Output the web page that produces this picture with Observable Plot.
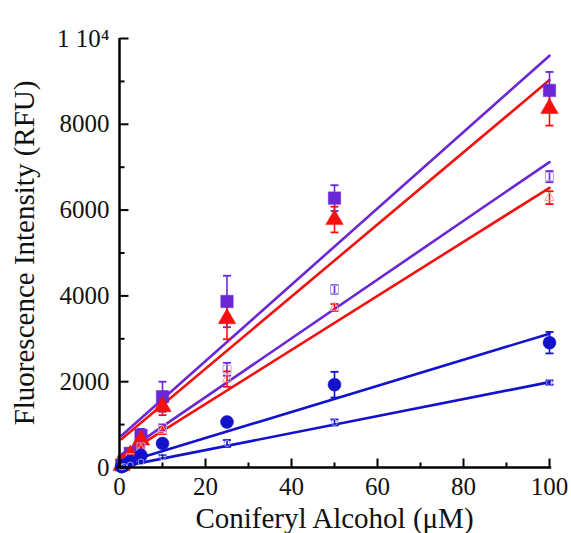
<!DOCTYPE html>
<html>
<head>
<meta charset="utf-8">
<script src="https://cdn.jsdelivr.net/npm/d3@7"></script>
<script src="https://cdn.jsdelivr.net/npm/@observablehq/plot@0.6"></script>
<style>
  html, body { margin: 0; padding: 0; background: #fff; }
  #chart svg { display: block; }
</style>
</head>
<body>
<div id="chart"></div>
<script>
// ---- data ----
const concentrations = [0.5, 1, 2.5, 5, 10, 25, 50, 100];
const seriesNames = ["sqFilled", "triFilled", "sqOpen", "triOpen", "circFilled", "circOpen"];
const sqFilled   = [60, 130, 330, 750, 1650, 3870, 6280, 8790];
const triFilled  = [50, 110, 290, 640, 1420, 3470, 5780, 8370];
const sqOpen     = [40, 90, 230, 480, 930, 2290, 4150, 6780];
const triOpen    = [35, 80, 200, 430, 860, 2060, 3730, 6290];
const circFilled = [20, 50, 140, 280, 560, 1060, 1930, 2910];
const circOpen   = [10, 25, 60, 130, 250, 560, 1050, 1980];
const sqFilledErr   = [20, 30, 60, 150, 350, 600, 300, 430];
const triFilledErr  = [20, 30, 60, 150, 200, 480, 300, 400];
const sqOpenErr     = [10, 15, 30, 50, 80, 150, 100, 130];
const triOpenErr    = [10, 15, 30, 50, 80, 180, 80, 150];
const circFilledErr = [10, 10, 20, 40, 60, 100, 300, 250];
const circOpenErr   = [5, 5, 10, 20, 40, 80, 70, 50];
// linear fits: slope, intercept
const fitSlopes     = [89.0, 84.1, 68.5, 63.0, 30.4, 19.8];
const fitIntercepts = [700, 620, 270, 220, 80, 10];
const fitRange = [0.5, 100];
const yTicks = [0, 2000, 4000, 6000, 8000, 10000];
const yMinorTicks = [1000, 3000, 5000, 7000, 9000];
const xTicks = [0, 20, 40, 60, 80, 100];
const xMinorTicks = [10, 30, 50, 70, 90];

// ---- styles ----
const PURPLE = "#6a27d6", RED = "#f50f0f", BLUE = "#1212cc";
const styles = {
  sqFilled:   {color: PURPLE, symbol: "square",   r: 7,   fill: PURPLE, stroke: PURPLE, light: null},
  triFilled:  {color: RED,    symbol: "triangle", r: 6.5, fill: RED,    stroke: RED,    light: null},
  sqOpen:     {color: PURPLE, symbol: "square",   r: 4.5, fill: "none", stroke: "#b9a3ee", light: true},
  triOpen:    {color: RED,    symbol: "triangle", r: 3.5, fill: "none", stroke: "#f3a0a0", light: true},
  circFilled: {color: BLUE,   symbol: "circle",   r: 6.5, fill: BLUE,   stroke: BLUE,   light: null},
  circOpen:   {color: BLUE,   symbol: "circle",   r: 3,   fill: "none", stroke: "#9a9aee", light: true}
};
const values = {sqFilled, triFilled, sqOpen, triOpen, circFilled, circOpen};
const errors = {sqFilled: sqFilledErr, triFilled: triFilledErr, sqOpen: sqOpenErr,
                triOpen: triOpenErr, circFilled: circFilledErr, circOpen: circOpenErr};

const points = [];
seriesNames.forEach(s => concentrations.forEach((c, i) =>
  points.push({series: s, x: c, y: values[s][i], e: errors[s][i]})));
const fits = [];
seriesNames.forEach((s, k) => fitRange.forEach(x =>
  fits.push({series: s, x, y: fitIntercepts[k] + fitSlopes[k] * x})));

// custom symbols
const capSym = {draw(ctx) { ctx.moveTo(-4, 0); ctx.lineTo(4, 0); }};
const yTickMaj = {draw(ctx) { ctx.moveTo(0, 0); ctx.lineTo(9, 0); }};
const yTickMin = {draw(ctx) { ctx.moveTo(0, 0); ctx.lineTo(5, 0); }};
const xTickMaj = {draw(ctx) { ctx.moveTo(0, 0); ctx.lineTo(0, -9); }};
const xTickMin = {draw(ctx) { ctx.moveTo(0, 0); ctx.lineTo(0, -5); }};

const marks = [];
seriesNames.forEach(s => {
  marks.push(Plot.line(fits.filter(d => d.series === s),
    {x: "x", y: "y", stroke: styles[s].color, strokeWidth: 2.6}));
});
seriesNames.forEach(s => {
  const data = points.filter(d => d.series === s);
  const c = styles[s].color;
  marks.push(Plot.ruleX(data, {x: "x", y1: d => d.y - d.e, y2: d => d.y + d.e, stroke: c, strokeWidth: 1.6}));
  marks.push(Plot.dot(data, {x: "x", y: d => d.y + d.e, symbol: capSym, stroke: c, strokeWidth: 1.8, fill: "none"}));
  marks.push(Plot.dot(data, {x: "x", y: d => d.y - d.e, symbol: capSym, stroke: c, strokeWidth: 1.8, fill: "none"}));
});
seriesNames.forEach(s => {
  const st = styles[s];
  marks.push(Plot.dot(points.filter(d => d.series === s),
    {x: "x", y: "y", symbol: st.symbol, r: st.r, fill: st.fill, stroke: st.stroke, strokeWidth: st.light ? 1 : 0.5}));
});
marks.push(Plot.ruleX([0], {y1: 0, y2: 10000, stroke: "#000", strokeWidth: 2.5}));
marks.push(Plot.ruleY([0], {x1: -0.6, x2: 100.5, stroke: "#000", strokeWidth: 2.5}));
marks.push(Plot.dot(yTicks, {x: 0, y: d => d, symbol: yTickMaj, stroke: "#000", strokeWidth: 2}));
marks.push(Plot.dot(yMinorTicks, {x: 0, y: d => d, symbol: yTickMin, stroke: "#000", strokeWidth: 2}));
marks.push(Plot.dot(xTicks, {x: d => d, y: 0, symbol: xTickMaj, stroke: "#000", strokeWidth: 2}));
marks.push(Plot.dot(xMinorTicks, {x: d => d, y: 0, symbol: xTickMin, stroke: "#000", strokeWidth: 2}));
marks.push(Plot.axisY({ticks: yTicks, tickSize: 0, tickPadding: 10,
  tickFormat: d => d === 10000 ? "1 10\u2074" : String(d),
  label: "Fluorescence Intensity (RFU)", labelAnchor: "center", labelArrow: "none", labelOffset: 106}));
marks.push(Plot.axisX({ticks: xTicks, tickSize: 0, tickPadding: 10,
  label: "Coniferyl Alcohol (\u03bcM)", labelAnchor: "center", labelArrow: "none", labelOffset: 60}));

const chart = Plot.plot({
  width: 571, height: 533,
  marginLeft: 119, marginRight: 22, marginTop: 38, marginBottom: 66,
  style: {fontFamily: "'Liberation Serif', 'Times New Roman', serif", fontSize: "25px", color: "#111", background: "#fff"},
  x: {domain: [0, 100]},
  y: {domain: [0, 10000]},
  marks
});
document.getElementById("chart").appendChild(chart);
chart.querySelectorAll('[aria-label="y-axis label"], [aria-label="x-axis label"]').forEach(g => {
  g.setAttribute("font-size", "29");
  g.querySelectorAll("text").forEach(t => t.style.fontSize = "29px");
});
chart.querySelectorAll('[aria-label="y-axis tick label"], [aria-label="x-axis tick label"]').forEach(g => {
  g.setAttribute("font-size", "25");
  g.querySelectorAll("text").forEach(t => t.style.fontSize = "25px");
});
</script>
</body>
</html>
